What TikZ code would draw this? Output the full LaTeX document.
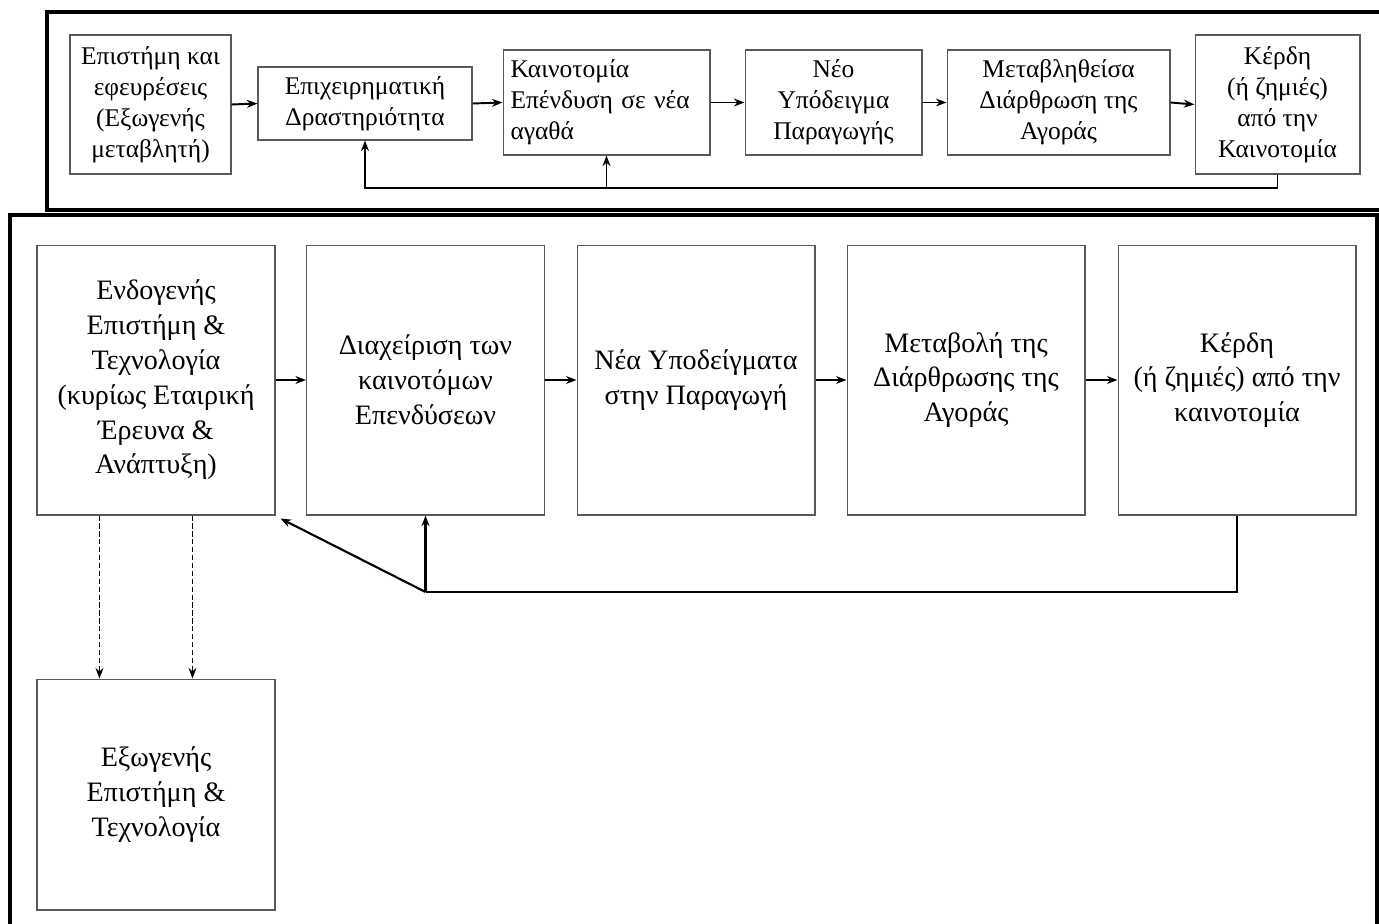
\documentclass[tikz,border=0pt]{standalone}
\usepackage{fontspec}
\setmainfont{Liberation Serif}
\usetikzlibrary{arrows.meta,positioning,calc}

\begin{document}
\begin{tikzpicture}[x=0.02cm,y=-0.02cm,>={Stealth[length=6pt,width=4.5pt]}]
\tikzstyle{bx}=[draw=gray!70!black,line width=0.6pt,align=center,inner sep=0pt]
\tikzstyle{tb}=[bx,font=\fontsize{14.5}{17.6}\selectfont]
\tikzstyle{lb}=[bx,font=\fontsize{16}{19.8}\selectfont,minimum width=4.76cm,minimum height=5.4cm]
\tikzstyle{frm}=[line width=1.8pt]
\useasboundingbox (0,0) rectangle (1379,923);
% frames
\draw[frm] (47,12) rectangle (1390,210);
\draw[frm] (10,940) -- (10,215) -- (1377,215) -- (1377,940);
% upper scheme
\node[tb,minimum width=3.22cm,minimum height=2.78cm] (e1) at (150.5,104.5) {Επιστήμη και\\εφευρέσεις\\(Εξωγενής\\μεταβλητή)};
\node[tb,minimum width=4.28cm,minimum height=1.46cm] (e2) at (365,103.5) {Επιχειρηματική\\Δραστηριότητα};
\node[tb,minimum width=4.14cm,minimum height=2.1cm,align=left,text width=3.84cm,inner xsep=0.15cm] (e3) at (606.5,102.5) {Καινοτομία\\Επένδυση σε νέα\\αγαθά};
\node[tb,minimum width=3.54cm,minimum height=2.1cm] (e4) at (833.5,102.5) {Νέο\\Υπόδειγμα\\Παραγωγής};
\node[tb,minimum width=4.46cm,minimum height=2.1cm] (e5) at (1058.5,102.5) {Μεταβληθείσα\\Διάρθρωση της\\Αγοράς};
\node[tb,minimum width=3.3cm,minimum height=2.78cm] (e6) at (1277.5,104.5) {Κέρδη\\(ή ζημιές)\\από την\\Καινοτομία};
\foreach \a/\b in {e1/e2,e2/e3,e3/e4,e4/e5,e5/e6}
  \draw[->,line width=1.1pt] (\a.east) -- (\b.west);
\coordinate (ft) at (0,188);
\draw[->,line width=1.1pt] (e6.south) |- (e2.south |- ft) -- (e2.south);
\draw[->,line width=1.1pt] (e3.south |- ft) -- (e3.south);
% lower scheme
\node[lb] (b1) at (156,380) {Ενδογενής\\Επιστήμη \&\\Τεχνολογία\\(κυρίως Εταιρική\\Έρευνα \&\\Ανάπτυξη)};
\node[lb] (b2) at (425.5,380) {Διαχείριση των\\καινοτόμων\\Επενδύσεων};
\node[lb] (b3) at (696,380) {Νέα Υποδείγματα\\στην Παραγωγή};
\node[lb] (b4) at (966,380) {Μεταβολή της\\Διάρθρωσης της\\Αγοράς};
\node[lb] (b5) at (1237,380) {Κέρδη\\(ή ζημιές) από την\\καινοτομία};
\node[lb,minimum height=4.62cm] (b6) at (156,794.5) {Εξωγενής\\Επιστήμη \&\\Τεχνολογία};
\foreach \a/\b in {b1/b2,b2/b3,b3/b4,b4/b5}
  \draw[->,line width=0.8pt] (\a.east) -- (\b.west);
\coordinate (fb) at (0,592);
\draw[line width=1.2pt] (b5.south) |- (b2.south |- fb);
\draw[->,line width=1.2pt] (b2.south |- fb) -- (b2.south);
\draw[->,line width=1.2pt] (b2.south |- fb) -- ([shift={(5,3)}]b1.south east);
\draw[->,dash pattern=on 3pt off 1.5pt,line width=0.9pt] ([xshift=1.26cm]b1.south west) -- ([xshift=1.26cm]b6.north west);
\draw[->,dash pattern=on 3pt off 1.5pt,line width=0.9pt] ([xshift=3.12cm]b1.south west) -- ([xshift=3.12cm]b6.north west);
\end{tikzpicture}
\end{document}
